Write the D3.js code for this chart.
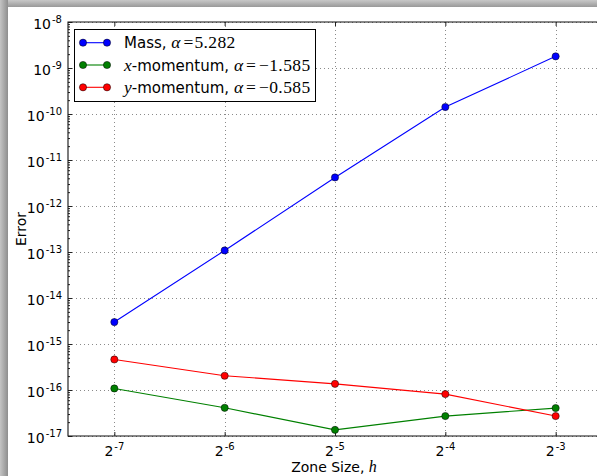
<!DOCTYPE html>
<html>
<head>
<meta charset="utf-8">
<script src="https://cdn.jsdelivr.net/npm/d3@7"></script>
<style>
  html, body { margin: 0; padding: 0; background: #fff; overflow: hidden; }
  svg { display: block; }
</style>
</head>
<body>
<svg id="chart" width="597" height="476"></svg>
<script>
// Zone sizes h = 2^-7 ... 2^-3
const zoneSizes = [1 / 128, 1 / 64, 1 / 32, 1 / 16, 1 / 8];
const zoneExponents = ["-7", "-6", "-5", "-4", "-3"];

// Error norms per conserved quantity
const massError = [3.0e-15, 1.08e-13, 4.18e-12, 1.42e-10, 1.79e-9];
const xMomentumError = [1.08e-16, 4.1e-17, 1.36e-17, 2.71e-17, 4.04e-17];
const yMomentumError = [4.61e-16, 2.04e-16, 1.36e-16, 8.15e-17, 2.71e-17];

// Convergence rates shown in the legend
const seriesNames = ["Mass", "x-momentum", "y-momentum"];
const seriesRates = ["5.282", "\u22121.585", "\u22120.585"];
const seriesColors = ["#0000ff", "#008000", "#ff0000"];

// Decade tick exponents on the error axis
const errorExponents = [-17, -16, -15, -14, -13, -12, -11, -10, -9, -8];

const series = [
  { name: seriesNames[0], rate: seriesRates[0], color: seriesColors[0], values: massError, italicPrefix: null },
  { name: seriesNames[1], rate: seriesRates[1], color: seriesColors[1], values: xMomentumError, italicPrefix: "x" },
  { name: seriesNames[2], rate: seriesRates[2], color: seriesColors[2], values: yMomentumError, italicPrefix: "y" }
];

const svg = d3.select("#chart");
const SANS = "'DejaVu Sans', sans-serif";
const SERIF = "'Liberation Serif', 'DejaVu Serif', serif";

// window-edge shading
const defs = svg.append("defs");
const gl = defs.append("linearGradient").attr("id", "shadeLeft").attr("x1", 0).attr("x2", 1).attr("y1", 0).attr("y2", 0);
gl.append("stop").attr("offset", 0).attr("stop-color", "#c4c4c4");
gl.append("stop").attr("offset", 1).attr("stop-color", "#8e8e8e");
const gt = defs.append("linearGradient").attr("id", "shadeTop").attr("x1", 0).attr("x2", 0).attr("y1", 0).attr("y2", 1);
gt.append("stop").attr("offset", 0).attr("stop-color", "#c8c8c8");
gt.append("stop").attr("offset", 1).attr("stop-color", "#999999");
svg.append("rect").attr("x", 0).attr("y", 0).attr("width", 597).attr("height", 7).attr("fill", "url(#shadeTop)");
svg.append("rect").attr("x", 0).attr("y", 0).attr("width", 8).attr("height", 476).attr("fill", "url(#shadeLeft)");

// Plot frame
const plotLeft = 68, plotRight = 602, plotTop = 22, plotBottom = 436;

const x = d3.scaleLog().base(2)
  .domain([Math.pow(2, -7.42), Math.pow(2, -2.58)])
  .range([plotLeft, plotRight]);
const y = d3.scaleLog()
  .domain([1e-17, 1e-8])
  .range([plotBottom, plotTop]);

const plot = svg.append("g");

// grid
const grid = plot.append("g")
  .attr("stroke", "#8a8a8a").attr("stroke-width", 1).attr("stroke-dasharray", "1,3");
grid.selectAll("line.gx").data(zoneSizes).join("line")
  .attr("x1", d => Math.round(x(d)) + 0.5).attr("x2", d => Math.round(x(d)) + 0.5)
  .attr("y1", plotTop).attr("y2", plotBottom);
grid.selectAll("line.gy").data(errorExponents).join("line")
  .attr("y1", d => Math.round(y(Math.pow(10, d))) + 0.5).attr("y2", d => Math.round(y(Math.pow(10, d))) + 0.5)
  .attr("x1", plotLeft).attr("x2", plotRight);

// axes via d3 with inward ticks
const minorValues = [];
errorExponents.slice(0, -1).forEach(e => {
  for (let k = 2; k <= 9; k++) minorValues.push(k * Math.pow(10, e));
});

function styleAxis(g) {
  g.select(".domain").remove();
  g.selectAll(".tick line").attr("stroke", "#222").attr("stroke-width", 1);
  g.selectAll(".tick text").remove();
}

plot.append("g").attr("transform", `translate(${plotLeft},0)`)
  .call(d3.axisRight(y).tickValues(errorExponents.map(e => Math.pow(10, e))).tickSize(4).tickFormat(""))
  .call(styleAxis);
plot.append("g").attr("transform", `translate(${plotLeft},0)`)
  .call(d3.axisRight(y).tickValues(minorValues).tickSize(2).tickFormat(""))
  .call(styleAxis);
plot.append("g").attr("transform", `translate(0,${plotBottom})`)
  .call(d3.axisTop(x).tickValues(zoneSizes).tickSize(4).tickFormat(""))
  .call(styleAxis);
plot.append("g").attr("transform", `translate(0,${plotTop})`)
  .call(d3.axisBottom(x).tickValues(zoneSizes).tickSize(4).tickFormat(""))
  .call(styleAxis);

// spines
plot.append("path")
  .attr("d", `M${plotRight},${plotTop}H${plotLeft}V${plotBottom}H${plotRight}`)
  .attr("fill", "none").attr("stroke", "#111").attr("stroke-width", 1.1);

// y tick labels: 10^n
const yLabels = svg.append("g").attr("font-family", SANS).attr("fill", "#000");
errorExponents.forEach(e => {
  const t = yLabels.append("text")
    .attr("x", 62).attr("y", y(Math.pow(10, e)) + 7)
    .attr("text-anchor", "end").attr("font-size", 14);
  t.append("tspan").text("10");
  t.append("tspan").attr("font-size", 10).attr("dy", -6).attr("dx", 1).text(String(e));
});

// x tick labels: 2^n
const xLabels = svg.append("g").attr("font-family", SANS).attr("fill", "#000");
zoneSizes.forEach((h, i) => {
  const t = xLabels.append("text")
    .attr("x", x(h)).attr("y", plotBottom + 20)
    .attr("text-anchor", "middle").attr("font-size", 14);
  t.append("tspan").text("2");
  t.append("tspan").attr("font-size", 10).attr("dy", -6).attr("dx", 1).text(zoneExponents[i]);
});

// axis titles
const xt = svg.append("text").attr("x", 334).attr("y", 471.5)
  .attr("text-anchor", "middle").attr("font-family", SANS).attr("font-size", 14);
xt.append("tspan").text("Zone Size, ");
xt.append("tspan").attr("font-family", SERIF).attr("font-style", "italic").attr("font-size", 16).text("h");

svg.append("text").attr("transform", "translate(26,229) rotate(-90)")
  .attr("text-anchor", "middle").attr("font-family", SANS).attr("font-size", 14).text("Error");

// series lines and markers
const line = d3.line().x((d, i) => x(zoneSizes[i])).y(d => y(d));
series.forEach(s => {
  plot.append("path").datum(s.values)
    .attr("d", line).attr("fill", "none").attr("stroke", s.color).attr("stroke-width", 1.1);
  plot.selectAll(null).data(s.values).join("circle")
    .attr("cx", (d, i) => x(zoneSizes[i])).attr("cy", d => y(d)).attr("r", 3.6)
    .attr("fill", s.color).attr("stroke", "#000").attr("stroke-width", 0.5);
});

// legend
const legend = svg.append("g");
legend.append("rect").attr("x", 74.5).attr("y", 29.5).attr("width", 241).attr("height", 72)
  .attr("fill", "#fff").attr("stroke", "#000").attr("stroke-width", 1);
series.forEach((s, i) => {
  const cy = 42.7 + i * 22.3;
  legend.append("line").attr("x1", 83).attr("x2", 107).attr("y1", cy).attr("y2", cy)
    .attr("stroke", s.color).attr("stroke-width", 1.1);
  [83, 107].forEach(cx => legend.append("circle").attr("cx", cx).attr("cy", cy).attr("r", 3.6)
    .attr("fill", s.color).attr("stroke", "#000").attr("stroke-width", 0.5));
  const t = legend.append("text").attr("x", 124).attr("y", cy + 5.5)
    .attr("font-family", SANS).attr("font-size", 15);
  if (s.italicPrefix) {
    t.append("tspan").attr("font-family", SERIF).attr("font-style", "italic").attr("font-size", 17.5).text(s.italicPrefix);
    t.append("tspan").text(s.name.slice(1) + ", ");
  } else {
    t.append("tspan").text(s.name + ", ");
  }
  t.append("tspan").attr("font-family", SERIF).attr("font-style", "italic").attr("font-size", 17.5).text("\u03b1");
  t.append("tspan").attr("font-family", SERIF).attr("font-size", 17.5).attr("dx", 3).text("=");
  t.append("tspan").attr("font-family", SERIF).attr("font-size", 17.5).attr("dx", s.rate.startsWith("\u2212") ? 3 : 1)
    .attr("letter-spacing", 0.4).text(s.rate);
});
</script>
</body>
</html>
